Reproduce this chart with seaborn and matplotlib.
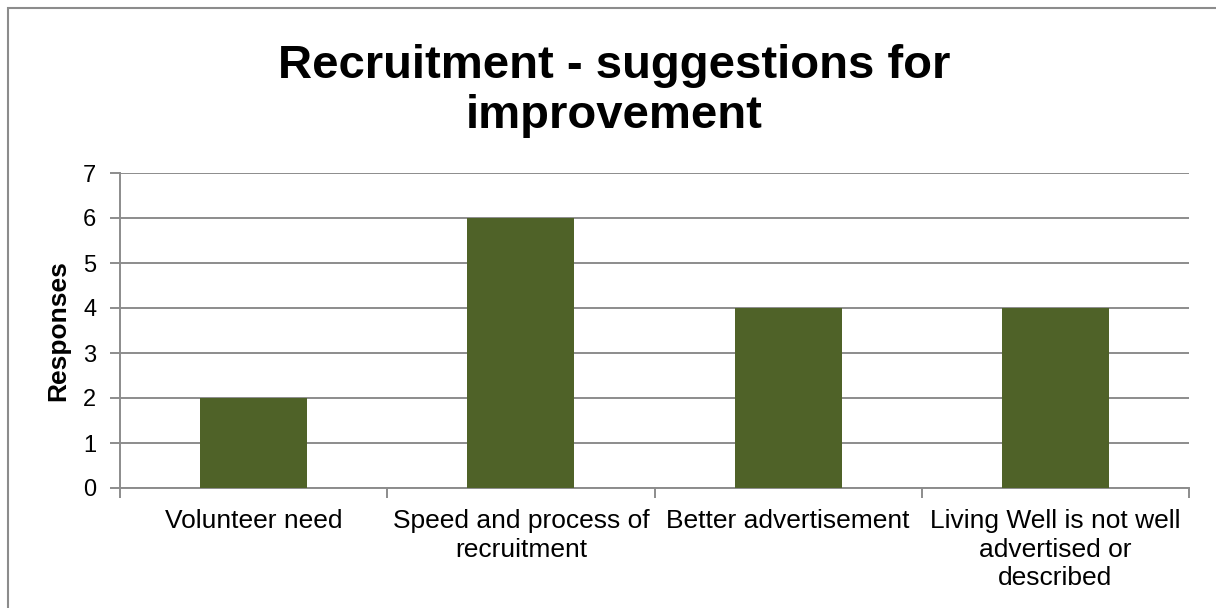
import matplotlib
matplotlib.use("Agg")
import matplotlib.pyplot as plt
from matplotlib.patches import Rectangle
from matplotlib.ticker import FixedLocator
import seaborn as sns
import pandas as pd

categories = [
    "Volunteer need",
    "Speed and process of\nrecruitment",
    "Better advertisement",
    "Living Well is not well\nadvertised or\ndescribed",
]
responses = [2, 6, 4, 4]
y_ticks = [0, 1, 2, 3, 4, 5, 6, 7]

sns.set_theme(style="white")
plt.rcParams["font.family"] = ["Liberation Sans", "DejaVu Sans"]

df = pd.DataFrame({"category": categories, "responses": responses})

fig = plt.figure(figsize=(12.16, 6.08), dpi=100)
ax = fig.add_axes([120 / 1216, 1 - 488 / 608, (1189 - 120) / 1216, (488 - 173) / 608])

grid_col = "#8C8C8C"
sns.barplot(data=df, x="category", y="responses", color="#4F6228",
            width=0.4, saturation=1, linewidth=0, ax=ax, zorder=3)

ax.set_xlim(-0.5, len(categories) - 0.5)
ax.set_ylim(0, 7)
ax.set_yticks(y_ticks)
ax.yaxis.grid(True, color=grid_col, linewidth=1.4, zorder=0)
ax.set_axisbelow(True)

ax.xaxis.set_minor_locator(FixedLocator([i - 0.5 for i in range(len(categories) + 1)]))
ax.tick_params(axis="x", which="major", length=0, pad=15, labelsize=19, colors="black")
ax.tick_params(axis="x", which="minor", length=7, width=1.4, color=grid_col, direction="out")
ax.tick_params(axis="y", which="major", length=7, width=1.4, color=grid_col,
               direction="out", labelsize=17, pad=10)
ax.tick_params(axis="y", labelcolor="black")
ax.xaxis.set_ticks_position("bottom")
ax.yaxis.set_ticks_position("left")

for s in ["top", "right"]:
    ax.spines[s].set_visible(False)
for s in ["left", "bottom"]:
    ax.spines[s].set_color(grid_col)
    ax.spines[s].set_linewidth(1.4)

ax.set_xlabel("")
ax.set_ylabel("Responses", fontsize=19, fontweight="bold", color="black", labelpad=9)
for lbl in ax.get_xticklabels():
    lbl.set_ha("center")
    lbl.set_multialignment("center")
    lbl.set_va("top")
    lbl.set_linespacing(1.25)

fig.text(614 / 1216, 1 - 91 / 608, "Recruitment - suggestions for\nimprovement",
         ha="center", va="center", fontsize=34, fontweight="bold",
         color="black", linespacing=1.15)

fig.patches.append(Rectangle((8 / 1216, -0.05), 1.1, 1 - 8 / 608 + 0.05,
                             transform=fig.transFigure, fill=False,
                             edgecolor="#8C8C8C", linewidth=1.5))

fig.savefig("out.png", dpi=100)
